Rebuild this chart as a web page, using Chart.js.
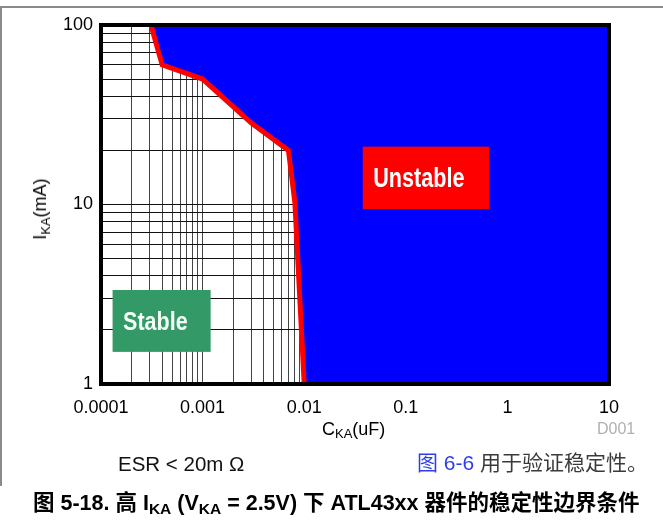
<!DOCTYPE html>
<html><head><meta charset="utf-8">
<script src="https://cdn.jsdelivr.net/npm/chart.js@4/dist/chart.umd.min.js"></script>
<style>
html,body{margin:0;padding:0;background:#fff;}
#wrap{position:relative;width:663px;height:523px;overflow:hidden;font-family:"Liberation Sans",Arial,"Noto Sans CJK SC",sans-serif;}
#c{position:absolute;left:0;top:0;}
.t{position:absolute;white-space:nowrap;line-height:20px;}
.sub{font-size:13px;position:relative;top:4px;}
</style></head>
<body>
<div id="wrap">
<canvas id="c" width="663" height="523"></canvas>
<div style="position:absolute;left:0;top:6px;width:663px;height:1.5px;background:#8a8a8a;"></div>
<div style="position:absolute;left:0;top:6px;width:1.5px;height:480px;background:#8a8a8a;"></div>
<div class="t" id="ytitle" style="left:41px;top:209px;font-size:18px;transform:translate(-50%,-50%) rotate(-90deg);">I<span class="sub">KA</span>(mA)</div>
<div class="t" style="left:322px;top:420px;font-size:18px;line-height:18px;color:#000;">C<span class="sub" style="top:3px;">KA</span>(uF)</div>
<div class="t" style="left:597px;top:420px;font-size:16px;line-height:18px;color:#b0b0b0;">D001</div>
<div class="t" style="left:118px;top:454px;font-size:20.5px;color:#111;">ESR &lt; 20m Ω</div>
<div class="t" style="left:417px;top:453px;font-size:21px;color:#3a3a3a;font-family:'Liberation Sans','Noto Sans CJK SC',sans-serif;"><span style="color:#2f3fe6;">图 6-6</span> 用于验证稳定性。</div>
<div class="t" style="left:33px;top:492px;font-size:21.5px;line-height:22px;font-weight:bold;color:#000;font-family:'Liberation Sans','Noto Sans CJK SC',sans-serif;">图 5-18. 高 I<span class="sub" style="font-size:15.5px;">KA</span> (V<span class="sub" style="font-size:15.5px;">KA</span> = 2.5V) 下 ATL43xx 器件的稳定性边界条件</div>
</div>
<script>
// ---- data ----
const boundaryCka = [3.1e-4, 4.0e-4, 1.0e-3, 3.0e-3, 7.0e-3, 8.1e-3, 1.0e-2]; // uF
const boundaryIka = [100, 60, 50, 28.5, 20, 10.2, 1];                        // mA
const xTickValues = [0.0001, 0.001, 0.01, 0.1, 1, 10];
const xTickLabels = ['0.0001', '0.001', '0.01', '0.1', '1', '10'];
const yTickValues = [1, 10, 100];
const yTickLabels = ['1', '10', '100'];
const regionNames = ['Unstable', 'Stable'];

const xMin = xTickValues[0], xMax = xTickValues[xTickValues.length - 1];
const yMin = yTickValues[0], yMax = yTickValues[yTickValues.length - 1];

const boundaryPoints = boundaryCka.map((c, i) => ({x: c, y: boundaryIka[i]}));
const unstablePoints = boundaryPoints.concat([{x: xMax, y: yMin}]);

function logTicks(min, max) {
  const out = [];
  const e0 = Math.round(Math.log10(min)), e1 = Math.round(Math.log10(max));
  for (let e = e0; e <= e1; e++) {
    for (let m = 1; m <= 9; m++) {
      const v = m * Math.pow(10, e);
      if (v > max * 1.0001) break;
      out.push({value: v});
    }
  }
  return out;
}
function labelFor(value, vals, labels) {
  for (let i = 0; i < vals.length; i++) {
    if (Math.abs(Math.log10(value) - Math.log10(vals[i])) < 1e-6) return labels[i];
  }
  return '';
}

const regionBoxes = [
  {text: regionNames[0], x0: 0.0377, x1: 0.659, y0: 21.0, y1: 9.44, bg: '#ff0000', color: '#ffffff', size: 27, sx: 0.8},
  {text: regionNames[1], x0: 1.30e-4, x1: 1.20e-3, y0: 3.34, y1: 1.51, bg: '#339966', color: '#f4fff8', size: 25, sx: 0.86}
];

const overlayPlugin = {
  id: 'overlay',
  afterDatasetsDraw(chart) {
    const {ctx, chartArea: a, scales: {x, y}} = chart;
    ctx.save();
    ctx.strokeStyle = '#000';
    ctx.lineWidth = 4;
    ctx.strokeRect(a.left, a.top, a.right - a.left, a.bottom - a.top);
    regionBoxes.forEach(b => {
      const l = x.getPixelForValue(b.x0), r = x.getPixelForValue(b.x1);
      const t = y.getPixelForValue(b.y0), btm = y.getPixelForValue(b.y1);
      ctx.fillStyle = b.bg;
      ctx.fillRect(l, t, r - l, btm - t);
      ctx.fillStyle = b.color;
      ctx.font = 'bold ' + b.size + 'px "Liberation Sans", Arial, sans-serif';
      ctx.textBaseline = 'alphabetic';
      ctx.textAlign = 'left';
      const base = (t + btm) / 2 + 0.716 * b.size / 2;
      ctx.save();
      ctx.translate(l + 10.5, base);
      ctx.scale(b.sx, 1);
      ctx.fillText(b.text, 0, 0);
      ctx.restore();
    });
    ctx.restore();
  }
};

new Chart(document.getElementById('c'), {
  type: 'line',
  data: {
    datasets: [
      {
        label: 'Unstable region',
        data: unstablePoints,
        borderWidth: 0,
        borderColor: 'rgba(0,0,0,0)',
        backgroundColor: '#0000ff',
        fill: 'end',
        pointRadius: 0,
        tension: 0,
        order: 2
      },
      {
        label: 'Boundary',
        data: boundaryPoints,
        borderColor: '#ff0000',
        borderWidth: 5,
        borderJoinStyle: 'miter',
        fill: false,
        pointRadius: 0,
        tension: 0,
        order: 1
      }
    ]
  },
  options: {
    responsive: false,
    animation: false,
    devicePixelRatio: 1,
    layout: {padding: {left: 0, top: 25, right: 54, bottom: 0}},
    plugins: {legend: {display: false}, tooltip: {enabled: false}},
    scales: {
      x: {
        type: 'logarithmic',
        min: xMin, max: xMax,
        afterBuildTicks: s => { s.ticks = logTicks(xMin, xMax); },
        afterFit: s => { s.height = 139; },
        grid: {color: '#444', lineWidth: 1, drawTicks: false},
        border: {display: false},
        ticks: {
          autoSkip: false, maxRotation: 0, minRotation: 0, padding: 13,
          color: '#000', font: {family: '"Liberation Sans", Arial, sans-serif', size: 18},
          callback: v => labelFor(v, xTickValues, xTickLabels)
        }
      },
      y: {
        type: 'logarithmic',
        min: yMin, max: yMax,
        afterBuildTicks: s => { s.ticks = logTicks(yMin, yMax); },
        afterFit: s => { s.width = 101; },
        grid: {color: '#111', lineWidth: 1, drawTicks: false},
        border: {display: false},
        ticks: {
          autoSkip: false, padding: 8,
          color: '#000', font: {family: '"Liberation Sans", Arial, sans-serif', size: 18},
          callback: v => labelFor(v, yTickValues, yTickLabels)
        }
      }
    }
  },
  plugins: [overlayPlugin]
});
</script>
</body></html>
